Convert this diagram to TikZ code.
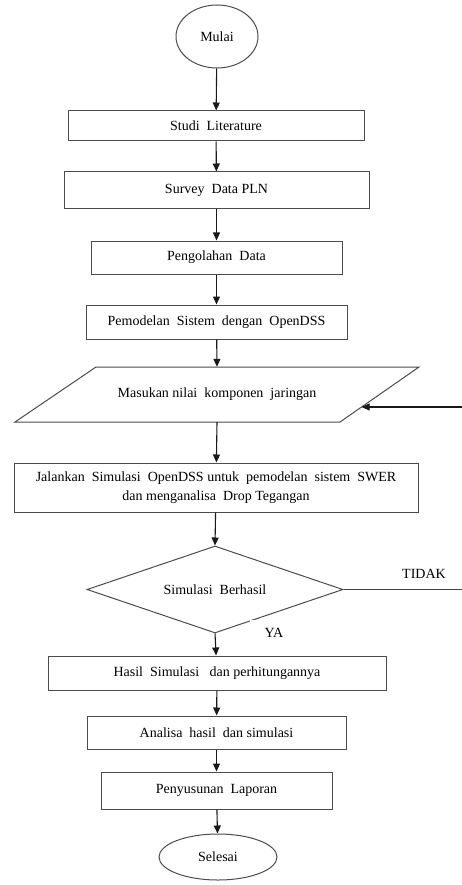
\documentclass[tikz,border=0pt]{standalone}
\usepackage{fontspec}
\setmainfont{Liberation Serif}
\usetikzlibrary{shapes.geometric,arrows.meta,calc}
\begin{document}
\begin{tikzpicture}[x=1pt,y=-1pt,
  every node/.style={font=\fontsize{14}{19}\selectfont, text=black, inner sep=0pt},
  procbox/.style={draw=black!70, line width=1pt, rectangle},
  termbox/.style={draw=black!70, line width=1pt, ellipse},
  flowarrow/.style={draw=black!90, line width=1.1pt, -{Triangle[length=8pt,width=7pt]}},
  flowline/.style={draw=black!75, line width=1.1pt},
  lbl/.style={fill=white, inner sep=3pt}
]
\useasboundingbox (0,0) rectangle (462,885);
\fill[white] (0,0) rectangle (462,885);

\node[termbox, minimum width=82, minimum height=63] (mulai) at (217,36.5) {Mulai};
\node[procbox, minimum width=296, minimum height=30] (studi) at (216,126) {Studi\ \ Literature};
\node[procbox, minimum width=305, minimum height=37] (survey) at (216.5,190.5) {Survey\ \ Data PLN};
\node[procbox, minimum width=251, minimum height=33] (olah) at (216.5,257.5) {Pengolahan\ \ Data};
\node[procbox, minimum width=261, minimum height=34] (model) at (216.5,322) {Pemodelan\ \ Sistem\ \ dengan\ \ OpenDSS};

\coordinate (p1) at (96,367);
\coordinate (p2) at (419,367);
\coordinate (p3) at (340,422);
\coordinate (p4) at (15,422);
\draw[draw=black!70, line width=1pt] (p1) -- (p2) -- (p3) -- (p4) -- cycle;
\node[minimum width=240, minimum height=55] (input) at (217,394.5) {\raisebox{4pt}{Masukan nilai\ \ komponen\ \ jaringan}};

\node[procbox, minimum width=404, minimum height=49, align=center] (jalan) at (216,487.5)
  {Jalankan\ \ Simulasi\ \ OpenDSS untuk\ \ pemodelan\ \ sistem\ \ SWER\\dan menganalisa\ \ Drop Tegangan};
\node[draw=black!70, line width=1pt, diamond, aspect=2.94, minimum width=256, minimum height=87] (cek) at (215,589.5) {\raisebox{-4pt}{Simulasi\ \ Berhasil}};
\node[procbox, minimum width=338, minimum height=34] (hasil) at (217,673) {Hasil\ \ Simulasi\ \ \ dan perhitungannya};
\node[procbox, minimum width=259, minimum height=33] (analisa) at (216.5,732.5) {Analisa\ \ hasil\ \ dan simulasi};
\node[procbox, minimum width=231, minimum height=37] (lapor) at (216.5,790.5) {Penyusunan\ \ Laporan};
\node[termbox, minimum width=118, minimum height=46] (selesai) at (218,857) {Selesai};

\draw[flowarrow] (mulai) -- (studi);
\draw[flowarrow] (studi) -- (survey);
\draw[flowarrow] (survey) -- (olah);
\draw[flowarrow] (olah) -- (model);
\draw[flowarrow] (model) -- (input.north);
\draw[flowarrow] (input.south) -- (jalan);
\draw[flowarrow] (jalan) -- (cek.north);
\draw[flowarrow] (cek.south) -- (hasil);
\draw[flowarrow] (hasil) -- (analisa);
\draw[flowarrow] (analisa) -- (lapor);
\draw[flowarrow] (lapor) -- (selesai);

\coordinate (rt) at (470,0);
\coordinate (fb) at ($(p3)!0.273!(p2)$);
\draw[flowline] (cek.east) -- (cek.east -| rt) -- (fb -| rt);
\draw[flowarrow] (fb -| rt) -- (fb);

\node[lbl, minimum width=66, minimum height=28] (tidak) at (424,574) {TIDAK};
\node[lbl, minimum width=48, minimum height=27] (ya) at (274,633) {YA};
\end{tikzpicture}
\end{document}
